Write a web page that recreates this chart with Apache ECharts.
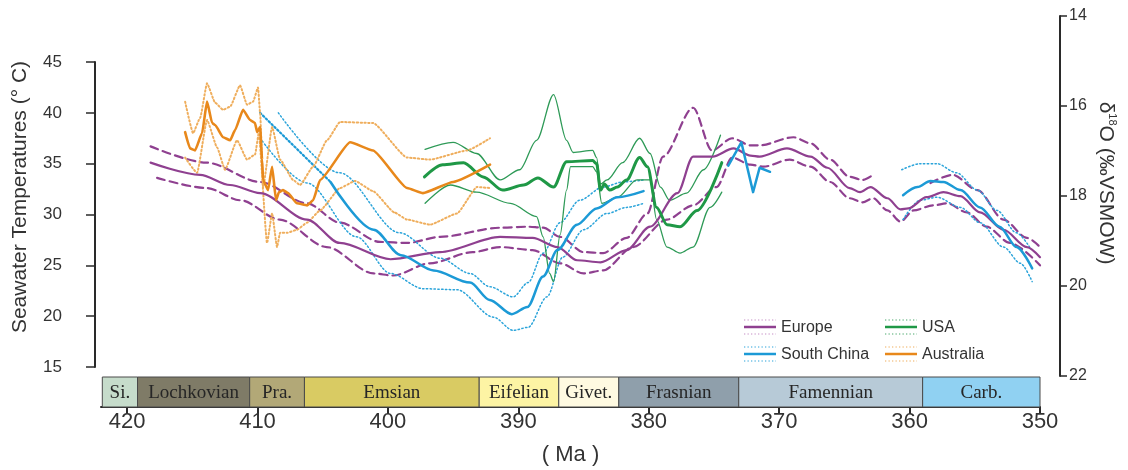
<!DOCTYPE html>
<html><head><meta charset="utf-8">
<script src="https://cdn.jsdelivr.net/npm/echarts@6/dist/echarts.min.js"></script>
<style>html,body{margin:0;padding:0;background:#fff}#c{width:1128px;height:470px}</style>
</head><body><div id="c"></div>
<script>
// ---------- data (age in Ma, temperature in °C) ----------
const xTicks = [420, 410, 400, 390, 380, 370, 360, 350];
const stageNames = ['Si.', 'Lochkovian', 'Pra.', 'Emsian', 'Eifelian', 'Givet.', 'Frasnian', 'Famennian', 'Carb.'];
const stageStart = [421.9, 419.2, 410.6, 406.4, 393.0, 386.9, 382.3, 373.1, 359.0];
const stageEnd   = [419.2, 410.6, 406.4, 393.0, 386.9, 382.3, 373.1, 359.0, 350.0];

const europeMid = [[418.2,35.1],[414.4,33.9],[412.1,32.9],[409.8,32.1],[406.2,29.5],[403.7,27.2],[399.8,25.6],[396.0,26.3],[391.4,27.8],[388.9,27.7],[387.0,26.8],[385.5,25.5],[383.7,25.3],[381.7,26.5],[379.9,28.8],[377.8,32.1],[376.6,35.7],[375.1,35.7],[373.5,36.5],[372.2,35.8],[371.5,35.7],[369.4,36.5],[367.6,35.7],[366.3,34.6],[364.6,32.6],[363.8,32.2],[363.0,32.7],[361.7,31.6],[360.7,30.5],[360.1,30.6],[358.7,31.7],[357.4,32.2],[356.1,31.8],[354.6,30.2],[352.8,28.5],[351.0,26.8],[350.0,25.8]];
const europeUpA = [[418.2,36.7],[413.9,35.1],[409.8,33.2],[406.2,31.1],[403.7,29.2],[400.6,27.3],[398.5,27.2],[396.0,27.8],[391.4,28.7],[389.3,28.8],[388.1,28.7],[386.8,27.8],[385.0,26.3],[383.5,26.2],[381.7,27.7],[380.1,30.1],[378.9,35.7],[376.6,40.5],[375.15,36.3],[373.6,37.5],[372.2,36.8],[371.5,36.8],[368.9,37.6],[367.6,37.0],[366.1,35.4],[364.6,33.7],[363.6,33.4],[362.8,33.9]];
const europeUpB = [[358.4,33.1],[356.7,33.9],[354.8,32.4],[352.8,29.5],[351.0,27.7],[350.0,26.8]];
const europeLow = [[417.7,33.6],[413.9,32.6],[411.3,31.4],[408.3,29.5],[404.7,26.8],[401.1,24.2],[399.6,24.0],[396.8,25.2],[393.5,26.3],[391.4,26.8],[388.9,26.5],[386.8,25.2],[385.0,24.2],[383.5,24.5],[381.2,26.8],[378.6,29.5],[376.6,30.9],[374.8,32.7],[373.6,35.6],[372.2,34.9],[371.2,34.7],[369.2,35.4],[367.6,34.7],[366.1,33.2],[364.6,31.6],[363.6,31.2],[362.8,31.6],[361.7,30.4],[360.7,29.3],[359.7,30.4],[358.2,30.9],[357.1,31.1],[355.6,30.2],[354.1,28.8],[352.3,27.2],[350.0,25.0]];

const scMidUncertain = [[409.8,40.0],[404.4,33.2]];
const scMidA = [[404.4,33.2],[401.1,28.5],[399.0,26.0],[396.5,24.5],[393.7,23.3],[392.2,21.6],[390.5,20.2],[389.3,20.9],[388.1,23.9],[387.0,26.5],[385.5,29.0],[384.0,30.6],[382.4,31.7],[380.4,32.3]];
const scMidB = [[373.9,34.8],[372.9,37.1],[372.0,32.2],[371.5,34.6],[370.7,34.2]];
const scMidC = [[360.5,31.9],[359.4,32.7],[358.4,33.3],[357.4,33.2],[356.1,32.4],[354.6,30.7],[353.1,28.8],[351.8,26.8],[350.6,24.7]];
const scUpA = [[408.4,40.0],[403.7,34.1],[399.1,28.2],[396.0,25.7],[393.7,24.2],[392.2,22.9],[390.4,21.9],[389.25,23.3],[388.1,26.2],[386.8,29.2],[385.3,31.4],[383.5,32.7],[382.0,33.2],[380.4,33.4]];
const scUpC = [[360.6,34.4],[359.2,35.0],[357.9,35.0],[356.4,34.1],[354.8,32.4],[353.3,30.4],[351.8,28.2],[350.8,26.8]];
const scLowA = [[409.8,37.5],[406.2,33.1],[402.4,27.8],[399.8,24.2],[397.3,22.7],[394.7,22.6],[391.9,19.9],[390.4,18.6],[389.25,18.9],[387.8,21.9],[386.6,25.8],[385.0,28.5],[383.2,30.1],[381.7,30.7],[380.4,31.1]];
const scLowC = [[360.5,29.5],[359.2,31.4],[357.9,31.7],[356.1,30.7],[354.6,29.2],[352.8,26.8],[351.5,25.2],[350.6,23.4]];

const usaMid = [[397.2,33.7],[395.8,34.9],[394.2,35.1],[392.7,33.7],[391.2,32.4],[389.6,32.9],[388.5,33.6],[387.3,32.7],[386.3,35.2],[384.3,35.3],[384.0,35.0],[383.7,32.4],[383.4,33.0],[383.0,32.4],[382.4,32.7],[381.7,33.4],[380.7,35.6],[380.1,34.7],[379.4,30.7],[378.6,29.0],[377.6,28.8],[376.3,30.4],[374.4,35.1]];
const usaUp = [[397.15,36.4],[395.0,37.1],[393.2,36.0],[391.4,33.4],[389.9,34.4],[388.6,37.3],[387.3,41.8],[386.3,37.3],[385.8,36.1],[384.3,36.3],[384.0,35.6],[383.7,33.0],[383.2,33.4],[382.0,35.1],[380.7,37.5],[379.9,36.0],[379.1,32.7],[378.4,31.4],[377.1,32.1],[375.8,34.4],[374.5,37.8]];
const usaLow = [[397.15,31.1],[395.2,32.9],[393.2,32.2],[390.6,31.1],[388.6,29.8],[388.1,27.8],[387.6,24.2],[387.3,23.4],[386.8,28.0],[386.3,32.4],[386.0,34.7],[384.3,34.7],[384.0,34.2],[383.6,31.1],[382.4,31.7],[380.9,33.4],[379.9,33.4],[379.4,29.5],[378.6,26.8],[377.6,26.2],[376.6,26.8],[375.3,30.7],[374.4,32.2]];

const ausMid = [[415.55,38.1],[415.17,36.5],[414.79,36.3],[414.25,38.0],[413.87,41.1],[413.48,39.0],[413.25,38.8],[412.64,37.6],[412.1,37.3],[411.72,38.3],[411.11,40.3],[410.57,39.3],[410.19,39.0],[410.03,38.1],[409.8,38.6],[409.65,35.4],[409.57,33.4],[409.19,32.4],[408.88,34.7],[408.58,31.4],[408.35,32.2],[408.04,32.4],[407.66,32.1],[406.97,31.1],[406.2,30.9],[405.74,31.4],[405.2,33.4],[402.9,37.1],[401.14,36.3],[398.53,32.6],[397.31,32.1],[395.0,33.2],[392.17,34.9]];
const ausUp = [[415.55,41.1],[414.94,38.0],[414.4,39.5],[413.87,42.9],[413.25,41.0],[412.64,40.3],[412.1,40.6],[411.34,42.7],[410.8,40.8],[410.34,41.1],[409.96,42.5],[409.8,40.0],[409.57,32.7],[408.88,38.6],[408.27,35.4],[407.27,33.4],[406.74,32.9],[405.74,34.7],[404.67,37.3],[403.67,39.1],[401.14,39.0],[398.53,35.6],[396.77,35.4],[393.93,36.3],[392.17,37.5]];
const ausLow = [[415.55,35.6],[414.63,34.1],[413.87,39.3],[413.1,36.6],[412.49,34.4],[411.57,37.3],[410.8,35.4],[410.19,35.9],[409.9,38.0],[409.27,27.2],[408.88,30.1],[408.5,26.8],[408.27,28.2],[407.73,28.2],[406.97,28.5],[406.2,29.2],[405.2,30.4],[403.67,32.6],[402.52,33.3],[401.14,32.3],[399.5,30.2],[398.53,29.5],[396.77,29.0],[394.7,30.1],[393.17,32.7],[392.17,32.6]];

const questionMarks = [[408.9,40.8],[378.0,33.3],[365.3,32.4]];
const legendNames = ['Europe', 'USA', 'South China', 'Australia'];

// ---------- styles ----------
const stageColors = ['#c6dccb', '#7f7b67', '#b2a877', '#d9cb63', '#fdf4a4', '#fffae1', '#8f9fab', '#b7cad7', '#90d1f2'];
const C = {
  eu: '#8f4090', euDot: '#c690c6',
  sc: '#1c9ad6', scDot: '#2ba4da',
  us: '#1f9846', usThin: '#2e9a57', usDot: '#4aa96c',
  au: '#e8881b', auDot: '#efae5d'
};
const FONT = '"Liberation Sans", Arial, sans-serif';

function L(data, color, width, dash, smooth, z) {
  return {
    type: 'line', xAxisIndex: 0, yAxisIndex: 0, data: data, symbol: 'none',
    smooth: smooth, smoothMonotone: 'x', silent: true, z: z || 2,
    lineStyle: { color: color, width: width, type: dash || 'solid', cap: 'round', join: 'round' }
  };
}
const DOT = [1.4, 2.4];
const DASH = [8, 5];

const series = [
  // Europe
  L(europeUpA, C.eu, 2.2, DASH, 0.3),
  L(europeUpB, C.eu, 2.2, DASH, 0.3),
  L(europeLow, C.eu, 2.2, DASH, 0.3),
  L(europeMid, C.eu, 2.2, null, 0.3, 3),
  // South China
  L(scUpA, C.scDot, 1.5, DOT, 0.3),
  L(scUpC, C.scDot, 1.5, DOT, 0.3),
  L(scLowA, C.scDot, 1.5, DOT, 0.3),
  L(scLowC, C.scDot, 1.5, DOT, 0.3),
  L(scMidUncertain, C.sc, 2.2, [1.6, 2.4], 0),
  L(scMidA, C.sc, 2.5, null, 0.3, 3),
  L(scMidB, C.sc, 2.5, null, 0, 3),
  L(scMidC, C.sc, 2.5, null, 0.3, 3),
  // USA
  L(usaUp, C.usThin, 1.3, null, 0.3),
  L(usaLow, C.usThin, 1.3, null, 0.3),
  L(usaMid, C.us, 3, null, 0.3, 3),
  // Australia
  L(ausUp, C.auDot, 2, DOT, 0.15),
  L(ausLow, C.auDot, 2, DOT, 0.15),
  L(ausMid, C.au, 2.6, null, 0.15, 3),
  // question marks
  {
    type: 'scatter', xAxisIndex: 0, yAxisIndex: 0, data: questionMarks, symbolSize: 1, silent: true,
    itemStyle: { opacity: 0 }, z: 5,
    label: { show: true, formatter: '?', position: 'inside', color: '#2ba4da', fontSize: 17, fontFamily: FONT }
  },
  // geological time scale bar
  {
    type: 'custom', xAxisIndex: 1, yAxisIndex: 1, silent: true,
    data: stageStart.map((s, i) => [s, stageEnd[i]]),
    encode: { x: [0, 1] },
    renderItem: function (params, api) {
      const p0 = api.coord([api.value(0), 1]);
      const p1 = api.coord([api.value(1), 0]);
      const i = params.dataIndex;
      return {
        type: 'group', children: [
          { type: 'rect', shape: { x: p0[0], y: p0[1], width: p1[0] - p0[0], height: p1[1] - p0[1] },
            style: { fill: stageColors[i], stroke: '#4a4a4a', lineWidth: 1 } },
          { type: 'text', style: { text: stageNames[i], x: (p0[0] + p1[0]) / 2, y: (p0[1] + p1[1]) / 2 + 1,
            align: 'center', verticalAlign: 'middle', font: '19px "Liberation Serif", "Times New Roman", serif', fill: '#262626' } }
        ]
      };
    }
  }
];

// legend drawn as graphic
const legendCols = [744, 885];
const legendRows = [327, 354];
const legendColors = [[C.eu, C.euDot], [C.us, C.usDot], [C.sc, C.scDot], [C.au, C.auDot]];
const legendGraphics = [];
legendNames.forEach((n, i) => {
  const x = legendCols[i % 2], y = legendRows[Math.floor(i / 2)];
  const [c, cd] = legendColors[i];
  legendGraphics.push(
    { type: 'line', shape: { x1: x, y1: y, x2: x + 32, y2: y }, style: { stroke: c, lineWidth: 2.5 } },
    { type: 'line', shape: { x1: x, y1: y - 7, x2: x + 32, y2: y - 7 }, style: { stroke: cd, lineWidth: 1.2, lineDash: [1.3, 2.2] } },
    { type: 'line', shape: { x1: x, y1: y + 7, x2: x + 32, y2: y + 7 }, style: { stroke: cd, lineWidth: 1.2, lineDash: [1.3, 2.2] } },
    { type: 'text', style: { text: n, x: x + 37, y: y + 1, verticalAlign: 'middle', font: '16px ' + FONT, fill: '#333' } }
  );
});

const option = {
  animation: false,
  backgroundColor: '#ffffff',
  grid: [
    { left: 101, right: 88, top: 62, bottom: 103 },
    { left: 101, right: 88, top: 377, bottom: 63 },
    { left: 101, right: 88, top: 16, bottom: 94 }
  ],
  xAxis: [
    { gridIndex: 0, type: 'value', min: 350, max: 422, inverse: true, show: false },
    {
      gridIndex: 1, type: 'value', min: 350, max: 422, inverse: true, position: 'bottom',
      axisLine: { show: true, onZero: false, lineStyle: { color: '#2a2a2a', width: 2 } },
      axisTick: { show: true, length: 7, customValues: xTicks, lineStyle: { color: '#2a2a2a', width: 2 } },
      axisLabel: { customValues: xTicks, fontSize: 22, color: '#333', margin: 4, fontFamily: FONT },
      splitLine: { show: false },
      name: '( Ma )', nameLocation: 'middle', nameGap: 37,
      nameTextStyle: { fontSize: 22, color: '#333', fontFamily: FONT }
    },
    { gridIndex: 2, type: 'value', min: 0, max: 1, show: false }
  ],
  yAxis: [
    {
      gridIndex: 0, type: 'value', min: 15, max: 45, interval: 5, position: 'left', offset: 6,
      axisLine: { show: true, onZero: false, lineStyle: { color: '#2a2a2a', width: 2 } },
      axisTick: { show: true, inside: false, length: 9, lineStyle: { color: '#2a2a2a', width: 1.5 } },
      axisLabel: { fontSize: 17, color: '#333', margin: 33, fontFamily: FONT },
      splitLine: { show: false }
    },
    { gridIndex: 1, type: 'value', min: 0, max: 1, show: false },
    {
      gridIndex: 2, type: 'value', min: 14, max: 22, interval: 2, inverse: true, position: 'right', offset: 20,
      axisLine: { show: true, onZero: false, lineStyle: { color: '#2a2a2a', width: 2 } },
      axisTick: { show: true, inside: false, length: 7, lineStyle: { color: '#2a2a2a', width: 1.5 } },
      axisLabel: { fontSize: 16, color: '#333', margin: 9, fontFamily: FONT },
      splitLine: { show: false }
    }
  ],
  graphic: [
    { type: 'text', x: 20, y: 197, rotation: Math.PI / 2,
      style: { text: 'Seawater Temperatures (° C)', font: '21px ' + FONT, fill: '#333', align: 'center', verticalAlign: 'middle' } },
    { type: 'text', x: 1106, y: 183, rotation: -Math.PI / 2,
      style: { text: '{a|δ}{s|18}{a|O (‰VSMOW)}', align: 'center', verticalAlign: 'middle',
        rich: { a: { fontSize: 21, fontFamily: FONT, fill: '#333', lineHeight: 24 },
                s: { fontSize: 11, fontFamily: FONT, fill: '#333', verticalAlign: 'top', lineHeight: 24 } } } }
  ].concat(legendGraphics),
  series: series
};

const chart = echarts.init(document.getElementById('c'), null, { renderer: 'canvas' });
chart.setOption(option);
</script>
</body></html>
